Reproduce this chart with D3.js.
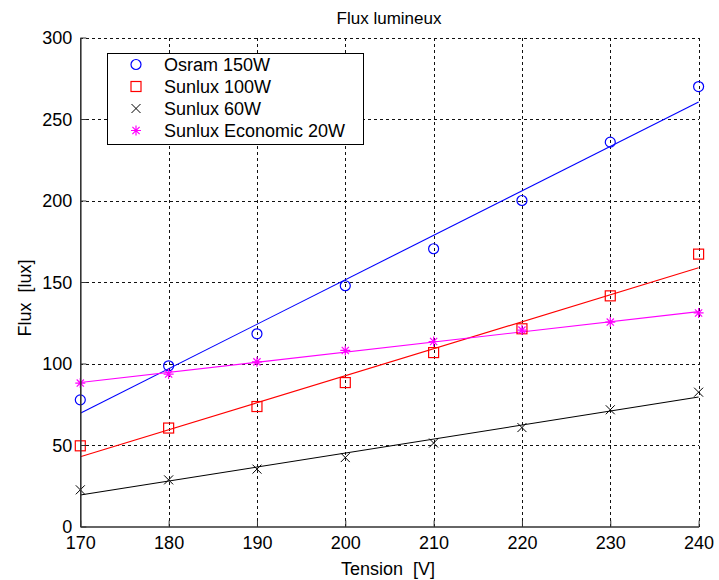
<!DOCTYPE html>
<html>
<head>
<meta charset="utf-8">
<script src="https://cdn.jsdelivr.net/npm/d3@7"></script>
<style>
  body { margin: 0; background: #fff; }
  svg { display: block; font-family: "Liberation Sans", Arial, sans-serif; }
</style>
</head>
<body>
<svg id="chart" width="719" height="580"></svg>
<script>
// ---- data ----
const tension = [170, 180, 190, 200, 210, 220, 230, 240];
const seriesNames = ["Osram 150W", "Sunlux 100W", "Sunlux 60W", "Sunlux Economic 20W"];
const osram150 = [77.7, 98.6, 118.2, 147.7, 170.4, 200, 235.8, 269.9];
const sunlux100 = [49.5, 60.4, 73.6, 88.3, 106.7, 121.3, 141.5, 167.1];
const sunlux60 = [22.5, 28.6, 35.2, 42.3, 51.2, 60.7, 71.6, 82.4];
const sunluxEco20 = [88, 93.5, 101, 108, 113.5, 120.5, 125.4, 131];
// fitted lines: values at 170 V and 240 V
const fitX = [170, 240];
const fitOsram150 = [69.5, 260.5];
const fitSunlux100 = [42.8, 158.7];
const fitSunlux60 = [19.3, 79.4];
const fitSunluxEco20 = [88.3, 131.8];
const xTicks = [170, 180, 190, 200, 210, 220, 230, 240];
const yTicks = [0, 50, 100, 150, 200, 250, 300];
const colors = ["#0000ff", "#ff0000", "#000000", "#ff00ff"];
const markers = ["circle", "square", "cross", "star"];

const allValues = [osram150, sunlux100, sunlux60, sunluxEco20];
const allFits = [fitOsram150, fitSunlux100, fitSunlux60, fitSunluxEco20];

// ---- layout ----
const svg = d3.select("#chart");
const x = d3.scaleLinear().domain([170, 240]).range([80.3, 698.6]);
const y = d3.scaleLinear().domain([0, 300]).range([526.5, 37.5]);
const [x0, x1] = x.range();
const [y0, y1] = y.range();

// grid
const grid = svg.append("g").attr("stroke", "#111").attr("stroke-width", 1)
  .attr("stroke-dasharray", "3,3").attr("shape-rendering", "crispEdges");
grid.selectAll(".gx").data(xTicks.filter(d => d !== 170)).enter().append("line")
  .attr("x1", d => Math.round(x(d)) + 0.5).attr("x2", d => Math.round(x(d)) + 0.5)
  .attr("y1", y1).attr("y2", y0);
grid.selectAll(".gy").data(yTicks.filter(d => d !== 0)).enter().append("line")
  .attr("y1", d => Math.round(y(d)) + 0.5).attr("y2", d => Math.round(y(d)) + 0.5)
  .attr("x1", x0).attr("x2", x1);

// fit lines
allFits.forEach((f, i) => {
  const pts = fitX.map((t, k) => [x(t), y(f[k])]);
  svg.append("path").attr("d", d3.line()(pts))
    .attr("fill", "none").attr("stroke", colors[i]).attr("stroke-width", 1.1);
});

function drawMarker(g, type, cx, cy, color) {
  const s = 5;
  if (type === "circle") {
    g.append("circle").attr("cx", cx).attr("cy", cy).attr("r", s)
      .attr("fill", "none").attr("stroke", color).attr("stroke-width", 1.2);
  } else if (type === "square") {
    g.append("rect").attr("x", cx - s).attr("y", cy - s).attr("width", 2 * s).attr("height", 2 * s)
      .attr("fill", "none").attr("stroke", color).attr("stroke-width", 1.2);
  } else if (type === "cross") {
    const p = 4.5;
    g.append("path").attr("d", `M${cx - p},${cy - p}L${cx + p},${cy + p}M${cx - p},${cy + p}L${cx + p},${cy - p}`)
      .attr("stroke", color).attr("stroke-width", 1);
  } else {
    const p = 5, q = 3.6;
    g.append("path").attr("d",
      `M${cx - p},${cy}L${cx + p},${cy}M${cx},${cy - p}L${cx},${cy + p}` +
      `M${cx - q},${cy - q}L${cx + q},${cy + q}M${cx - q},${cy + q}L${cx + q},${cy - q}`)
      .attr("stroke", color).attr("stroke-width", 1.2);
  }
}

// markers
allValues.forEach((vals, i) => {
  const g = svg.append("g");
  vals.forEach((v, k) => drawMarker(g, markers[i], x(tension[k]), y(v), colors[i]));
});

// axes
const axisColor = "#333";
const xAxis = svg.append("g").attr("transform", `translate(0,${y0})`)
  .call(d3.axisBottom(x).tickValues(xTicks).tickFormat(d3.format("d")).tickSizeInner(-6).tickSizeOuter(0).tickPadding(14));
const yAxis = svg.append("g").attr("transform", `translate(${x0},0)`)
  .call(d3.axisLeft(y).tickValues(yTicks).tickFormat(d3.format("d")).tickSizeInner(-6).tickSizeOuter(0).tickPadding(14));
[xAxis, yAxis].forEach(a => {
  a.select(".domain").attr("stroke", axisColor).attr("stroke-width", 1.6);
  a.selectAll(".tick line").attr("stroke", axisColor).attr("stroke-width", 1);
  a.selectAll("text").attr("fill", "#000").style("font-size", "18px")
    .style("font-family", "'Liberation Sans', Arial, sans-serif");
});
yAxis.selectAll("text").attr("x", -8).attr("dy", "0.36em");
xAxis.selectAll("text").attr("y", 10).attr("dy", "0.71em");

// titles
svg.append("text").attr("x", 389).attr("y", 24).attr("text-anchor", "middle")
  .style("font-size", "17px").text("Flux lumineux");
svg.append("text").attr("x", 388).attr("y", 575).attr("text-anchor", "middle")
  .style("font-size", "18px").attr("xml:space", "preserve").text("Tension  [V]");
svg.append("text").attr("transform", "translate(31,298) rotate(-90)").attr("text-anchor", "middle")
  .style("font-size", "18px").attr("xml:space", "preserve").text("Flux  [lux]");

// legend
const lg = svg.append("g");
lg.append("rect").attr("x", 107.5).attr("y", 53.5).attr("width", 256).attr("height", 91)
  .attr("fill", "#fff").attr("stroke", "#000").attr("stroke-width", 1);
const rowY = d3.scalePoint().domain(seriesNames).range([64.5, 130.5]);
seriesNames.forEach((n, i) => {
  drawMarker(lg, markers[i], 136, rowY(n), colors[i]);
  lg.append("text").attr("x", 164).attr("y", rowY(n) + 6.5).style("font-size", "18px").text(n);
});
</script>
</body>
</html>
